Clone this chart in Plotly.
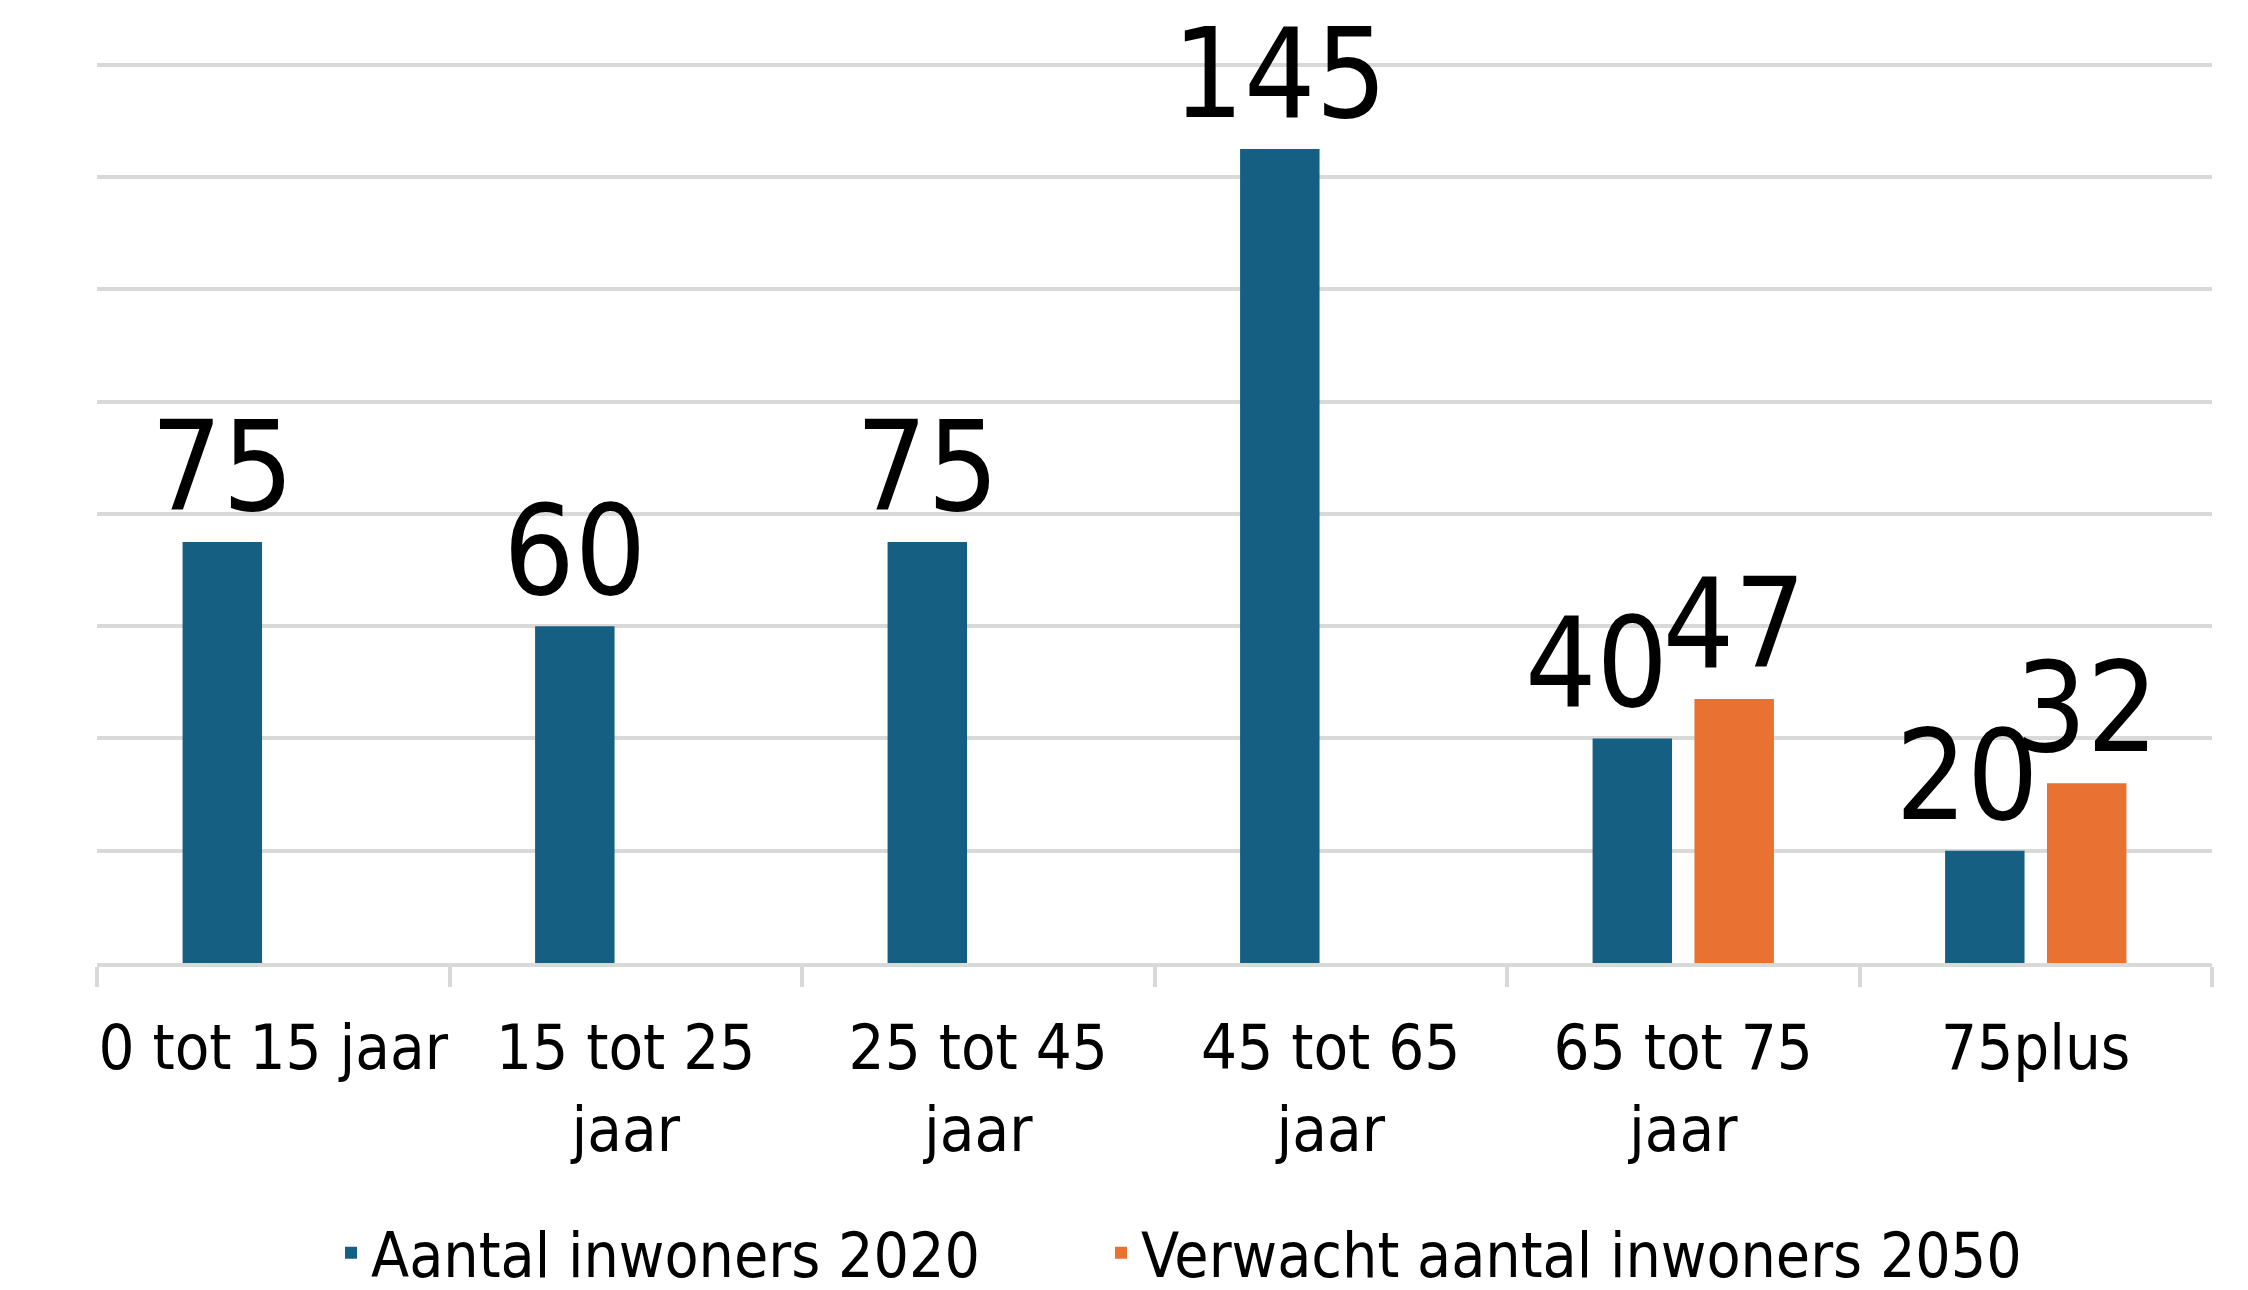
import plotly.graph_objects as go

categories = ["0 tot 15 jaar", "15 tot 25<br>jaar", "25 tot 45<br>jaar", "45 tot 65<br>jaar", "65 tot 75<br>jaar", "75plus"]
inwoners_2020 = [75, 60, 75, 145, 40, 20]
verwacht_2050 = [None, None, None, None, 47, 32]
series_names = ["Aantal inwoners 2020", "Verwacht aantal inwoners 2050"]
# label text; where labels of neighbouring bars would collide, the 2020 label is nudged left (as in the source)
labels_2020 = ["75", "60", "75", "145", "40\u2007", "20\u2008"]
labels_2050 = ["", "", "", "", "47", "32"]

FONT = "DejaVu Sans Condensed, DejaVu Sans, sans-serif"
BLUE = "#156082"
ORANGE = "#E97132"
GRID = "#d9d9d9"

fig = go.Figure()
fig.add_trace(go.Bar(
    x=categories, y=inwoners_2020, name=series_names[0], legend="legend",
    marker=dict(color=BLUE, line=dict(width=0)),
    text=labels_2020, textposition="outside",
    textfont=dict(size=125, color="black", family=FONT),
    cliponaxis=False, constraintext="none",
))
fig.add_trace(go.Bar(
    x=categories, y=verwacht_2050, name=series_names[1], legend="legend2",
    marker=dict(color=ORANGE, line=dict(width=0)),
    text=labels_2050, textposition="outside",
    textfont=dict(size=125, color="black", family=FONT),
    cliponaxis=False, constraintext="none",
))

legend_common = dict(orientation="h", xanchor="left", xref="container",
                     y=0.035, yanchor="middle", yref="container",
                     font=dict(size=62, family=FONT, color="black"),
                     bgcolor="rgba(0,0,0,0)")

fig.update_layout(
    width=2248, height=1290,
    margin=dict(l=89, r=44, t=55, b=335, autoexpand=False),
    paper_bgcolor="white", plot_bgcolor="white",
    barmode="group", bargap=0.422, bargroupgap=0.22,
    font=dict(family=FONT, color="black", size=64),
    showlegend=True,
    legend=dict(x=0.1437, **legend_common),
    legend2=dict(x=0.4862, **legend_common),
    xaxis=dict(
        type="category", showgrid=False, showline=True, linecolor=GRID, linewidth=4,
        ticks="outside", tickson="boundaries", ticklen=20, tickcolor=GRID, tickwidth=4,
        tickfont=dict(size=63, family=FONT, color="black"), ticklabelstandoff=26,
        tickangle=0, fixedrange=True, automargin=False,
    ),
    yaxis=dict(
        range=[0, 160.3], dtick=20, tick0=0, showgrid=True, gridcolor=GRID, gridwidth=4,
        showticklabels=False, zeroline=False, showline=False, ticks="", fixedrange=True,
        automargin=False,
    ),
)

fig.write_html("out.html")
